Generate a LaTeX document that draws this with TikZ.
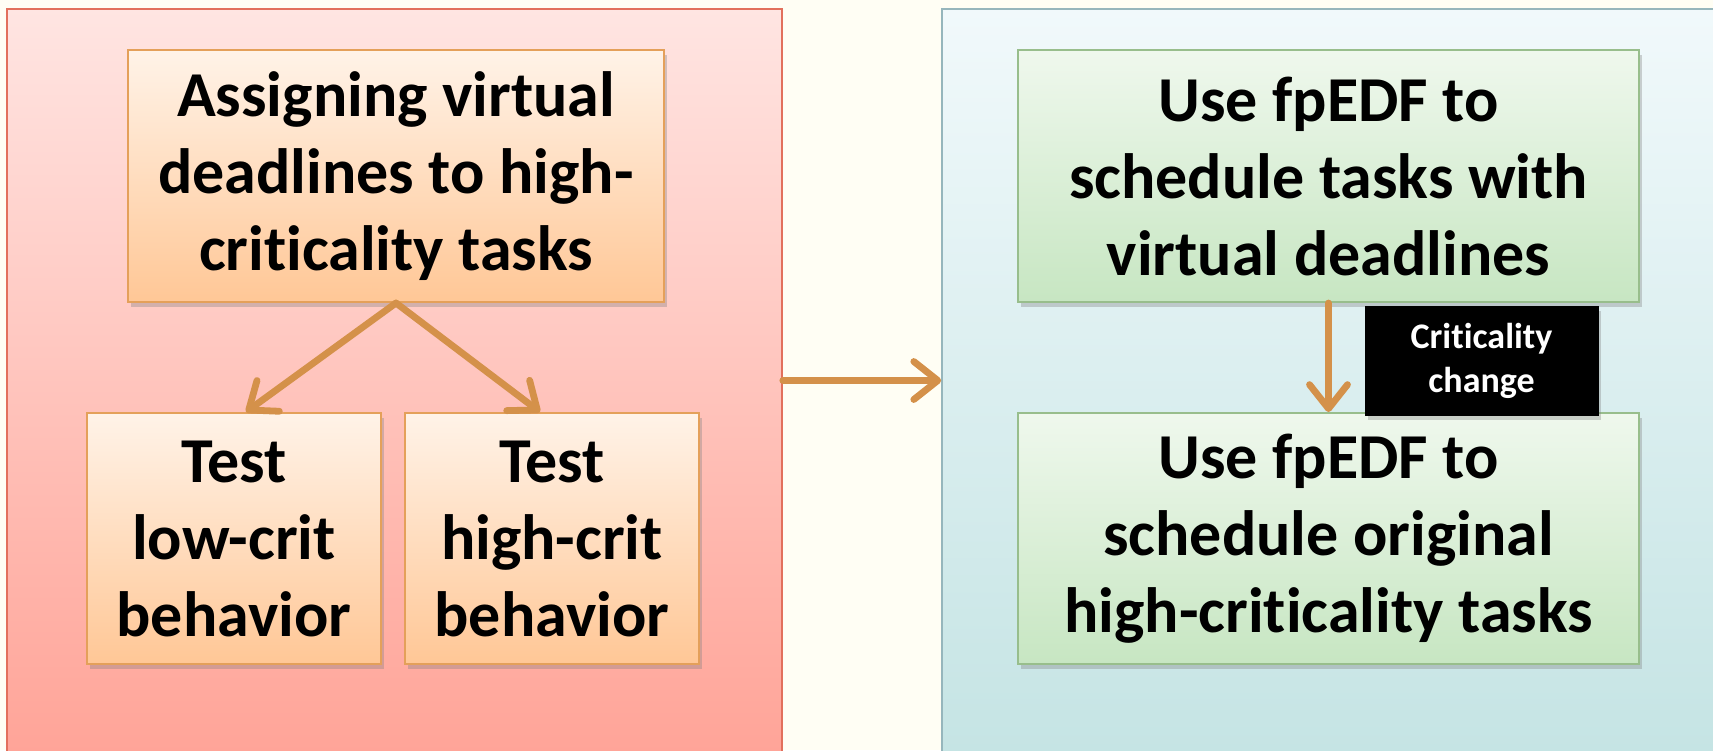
\documentclass[tikz,border=0pt]{standalone}
\usepackage{fontspec}
\setmainfont{Carlito}[RawFeature=-liga]
\usetikzlibrary{arrows.meta,shadows,calc}
\definecolor{bgcream}{RGB}{255,254,244}
\definecolor{lpTop}{RGB}{255,229,226}
\definecolor{lpBot}{RGB}{255,164,152}
\definecolor{lpLine}{RGB}{226,112,92}
\definecolor{rpTop}{RGB}{241,249,251}
\definecolor{rpBot}{RGB}{197,228,228}
\definecolor{rpLine}{RGB}{150,182,188}
\definecolor{orTop}{RGB}{255,243,232}
\definecolor{orBot}{RGB}{255,199,150}
\definecolor{orLine}{RGB}{228,160,90}
\definecolor{grTop}{RGB}{239,248,237}
\definecolor{grBot}{RGB}{199,230,194}
\definecolor{grLine}{RGB}{152,190,140}
\definecolor{arr}{RGB}{212,145,74}
\tikzset{
  panelL/.style={draw=lpLine, line width=0.8pt, top color=lpTop, bottom color=lpBot, inner sep=0pt},
  panelR/.style={draw=rpLine, line width=0.8pt, top color=rpTop, bottom color=rpBot, inner sep=0pt},
  orbox/.style={draw=orLine, line width=1pt, top color=orTop, bottom color=orBot,
    drop shadow={shadow xshift=1.5pt, shadow yshift=-2.5pt, opacity=0.35},
    align=center, font=\fontsize{32pt}{38.5pt}\selectfont\bfseries, inner sep=0pt},
  grbox/.style={draw=grLine, line width=1pt, top color=grTop, bottom color=grBot,
    drop shadow={shadow xshift=1.5pt, shadow yshift=-2.5pt, opacity=0.35},
    align=center, font=\fontsize{32pt}{38.5pt}\selectfont\bfseries, inner sep=0pt},
  blkbox/.style={fill=black, draw=black, text=white,
    drop shadow={shadow xshift=1.5pt, shadow yshift=-2.5pt, opacity=0.35},
    align=center, font=\fontsize{18pt}{22pt}\selectfont\bfseries, inner sep=0pt},
  conn/.style={draw=arr, line width=3.4pt, line cap=round,
    -{Straight Barb[length=12pt,width=19pt,line width=3.4pt,round]}},
}
\begin{document}
\begin{tikzpicture}[x=0.5pt,y=-0.5pt]
\useasboundingbox (0,0) rectangle (1713,750);
\fill[bgcream] (0,0) rectangle (1713,750);
% panels
\node[panelL, minimum width=387.5pt, minimum height=371.5pt] (lpanel) at (394.5,380.5) {};
\node[panelR, minimum width=386.5pt, minimum height=371.5pt] (rpanel) at (1328.5,380.5) {};
% left boxes
\node[orbox, minimum width=268pt, minimum height=126pt] (assign) at (396,176)
  {Assigning virtual\\deadlines to high-\\criticality tasks};
\node[orbox, minimum width=147pt, minimum height=125.5pt] (low) at (234,538.5)
  {Test\\low-crit\\behavior};
\node[orbox, minimum width=147pt, minimum height=125.5pt] (high) at (552,538.5)
  {Test\\high-crit\\behavior};
% right boxes
\node[grbox, minimum width=310.5pt, minimum height=126pt] (virt) at (1328.5,176)
  {Use fpEDF to\\schedule tasks with\\virtual deadlines};
\node[grbox, minimum width=310.5pt, minimum height=125.5pt] (orig) at (1328.5,538.5)
  {Use fpEDF to\\schedule original\\high-criticality tasks};
% connectors
\draw[conn] (assign.south) -- ([xshift=6pt]low.north);
\draw[conn] (assign.south) -- ([xshift=-6pt]high.north);
\draw[conn] (lpanel.east) -- (rpanel.west);
\draw[conn] (virt.south) -- (orig.north);
% label
\node[blkbox, minimum width=116.5pt, minimum height=54.5pt] (crit) at (1481.5,360.5)
  {Criticality\\change};
\end{tikzpicture}
\end{document}
